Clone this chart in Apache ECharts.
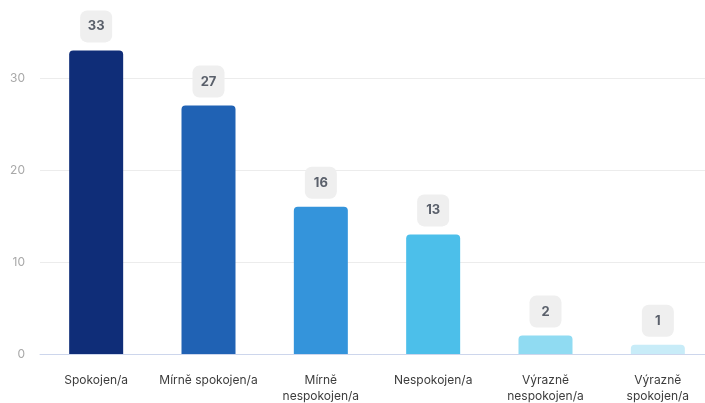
<!DOCTYPE html>
<html>
<head>
<meta charset="utf-8">
<style>
  html, body { margin: 0; padding: 0; background: #ffffff; }
  #chart { width: 705px; height: 403px; }
</style>
<script src="https://cdn.jsdelivr.net/npm/echarts@6/dist/echarts.min.js"></script>
</head>
<body>
<div id="chart"></div>
<script>
// Survey answers and counts of respondents
const categories = ['Spokojen/a', 'Mírně spokojen/a', 'Mírně\nnespokojen/a', 'Nespokojen/a', 'Výrazně\nnespokojen/a', 'Výrazně\nspokojen/a'];
const counts = [33, 27, 16, 13, 2, 1];
const barColors = ['#0f2d78', '#2062b4', '#3494db', '#4cbfea', '#90dbf2', '#c8ecf8'];
const yTicks = [0, 10, 20, 30];

const chart = echarts.init(document.getElementById('chart'), null, { renderer: 'canvas' });

chart.setOption({
  animation: false,
  backgroundColor: '#ffffff',
  grid: { left: 40, width: 674, top: 32, bottom: 49, containLabel: false, outerBoundsMode: 'none' },
  xAxis: {
    type: 'category',
    data: categories,
    axisLine: { show: true, lineStyle: { color: '#cdd6ec', width: 1 } },
    axisTick: { show: false },
    axisLabel: {
      color: '#3c3c3c',
      fontFamily: 'Inter, Roboto, sans-serif',
      fontSize: 12,
      lineHeight: 16,
      margin: 18,
      interval: 0,
      hideOverlap: false
    }
  },
  yAxis: {
    type: 'value',
    min: 0,
    max: 35,
    interval: 10,
    axisLine: { show: false },
    axisTick: { show: false },
    axisLabel: {
      color: '#a8a8a8',
      fontFamily: 'Inter, Roboto, sans-serif',
      fontSize: 12,
      margin: 15,
      formatter: v => (yTicks.includes(v) ? String(v) : '')
    },
    splitLine: { show: true, showMaxLine: false, lineStyle: { color: '#ececec', width: 1 } }
  },
  series: [{
    type: 'bar',
    data: counts.map((v, i) => ({ value: v, itemStyle: { color: barColors[i] } })),
    barWidth: 54,
    itemStyle: { borderRadius: [4, 4, 0, 0] },
    label: {
      show: true,
      position: 'top',
      distance: 8,
      color: '#5a606b',
      fontFamily: 'Inter, Roboto, sans-serif',
      fontWeight: 'bold',
      fontSize: 13,
      backgroundColor: '#efefef',
      borderRadius: 7,
      width: 32,
      height: 32,
      lineHeight: 32,
      align: 'center',
      verticalAlign: 'bottom'
    }
  }]
});
</script>
</body>
</html>
